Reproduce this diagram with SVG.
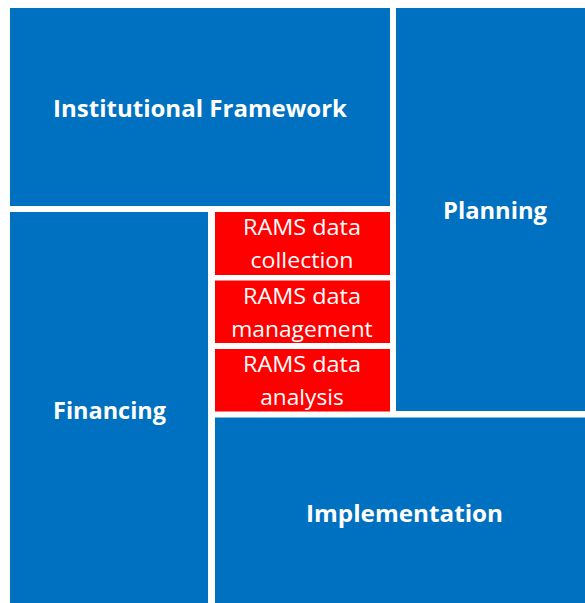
<svg xmlns="http://www.w3.org/2000/svg" width="585" height="603" viewBox="0 0 585 603">
<style>
.blue{fill:#0070C0}
.red{fill:#FF0000}
.big{font-family:"Open Sans","Noto Sans","Liberation Sans",sans-serif;font-weight:bold;font-size:24px;fill:#fff;text-anchor:middle}
.small{font-family:"Open Sans","Noto Sans","Liberation Sans",sans-serif;font-size:22px;fill:#fff;text-anchor:middle}
</style>
<rect width="585" height="603" fill="#fff"/>
<g id="institutional-framework">
<rect class="blue" x="10" y="8" width="380" height="198"/>
<text class="big" x="200" y="116.5" textLength="294" lengthAdjust="spacingAndGlyphs">Institutional Framework</text>
</g>
<g id="planning">
<rect class="blue" x="396" y="8" width="189" height="403"/>
<text class="big" x="495" y="219" textLength="104" lengthAdjust="spacingAndGlyphs">Planning</text>
</g>
<g id="financing">
<rect class="blue" x="10" y="212" width="198" height="391"/>
<text class="big" x="109.5" y="418.5" textLength="113" lengthAdjust="spacingAndGlyphs">Financing</text>
</g>
<g id="implementation">
<rect class="blue" x="215" y="417.5" width="370" height="185.5"/>
<text class="big" x="404.5" y="522" textLength="197" lengthAdjust="spacingAndGlyphs">Implementation</text>
</g>
<g id="rams-collection">
<rect class="red" x="215" y="212" width="175" height="63"/>
<text class="small" x="302" y="234.5" textLength="118" lengthAdjust="spacingAndGlyphs">RAMS data</text>
<text class="small" x="302" y="268" textLength="103" lengthAdjust="spacingAndGlyphs">collection</text>
</g>
<g id="rams-management">
<rect class="red" x="215" y="280.5" width="175" height="62.5"/>
<text class="small" x="302" y="303.5" textLength="118" lengthAdjust="spacingAndGlyphs">RAMS data</text>
<text class="small" x="302" y="337" textLength="141.5" lengthAdjust="spacingAndGlyphs">management</text>
</g>
<g id="rams-analysis">
<rect class="red" x="215" y="349" width="175" height="62.5"/>
<text class="small" x="302" y="372" textLength="118" lengthAdjust="spacingAndGlyphs">RAMS data</text>
<text class="small" x="302" y="405" textLength="83.5" lengthAdjust="spacingAndGlyphs">analysis</text>
</g>
<g id="connectors"/>
</svg>
